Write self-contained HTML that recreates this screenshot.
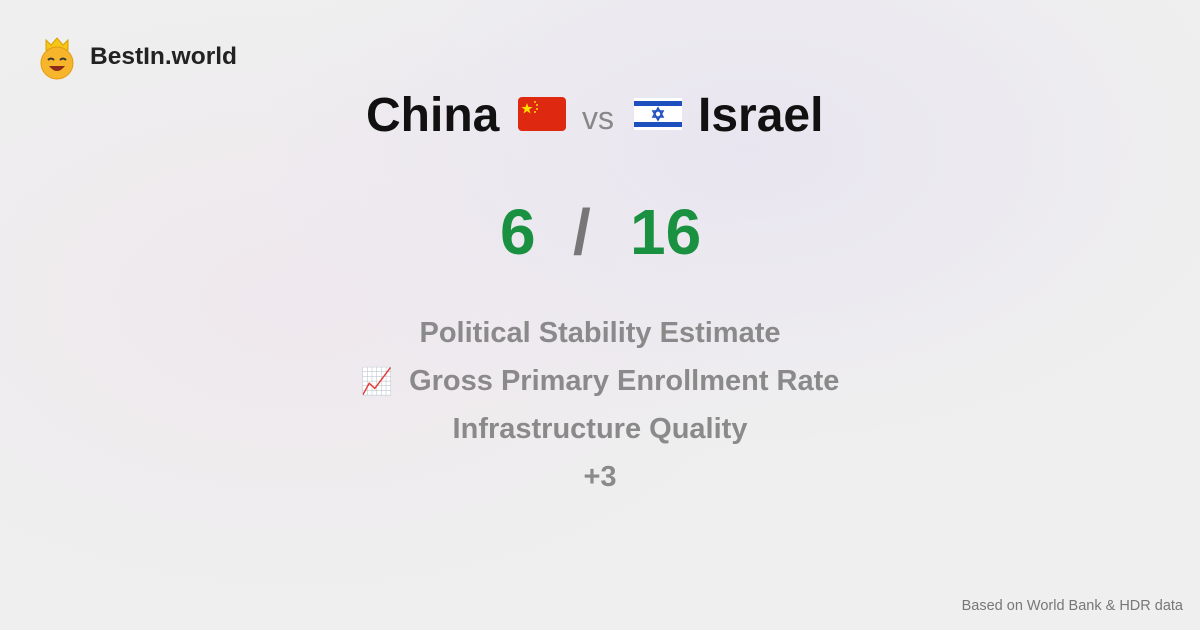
<!DOCTYPE html>
<html><head><meta charset="utf-8"><style>
body{margin:0;width:1200px;height:630px;overflow:hidden;font-family:"Liberation Sans",sans-serif;}
#bg{position:absolute;inset:0;width:1200px;height:630px;background:radial-gradient(ellipse 500px 300px at 750px 150px,#e9e5f0,transparent),radial-gradient(ellipse 500px 300px at 300px 300px,#efe8ee,transparent),#efefef;}
.abs{position:absolute}
.logo{left:90px;top:43px;font-size:24.5px;font-weight:bold;color:#222}
.title{top:88px;font-size:48px;font-weight:bold;color:#111}
.vs{left:582px;top:100px;font-size:32px;color:#888}
.score{top:195px;font-size:64px;font-weight:bold;color:#1a9141}
.feat{left:0;width:1200px;text-align:center;font-size:29px;font-weight:bold;color:#8a8a8a}
.foot{right:17px;top:598px;font-size:14.5px;color:#777}
</style></head><body>
<div id="bg"></div>
<svg class="abs" style="left:38px;top:36px" width="38" height="44">
<polygon points="8,14 8,4 13,9 19,2 25,9 30,4 30,14" fill="#f5c518" stroke="#d9a000"/>
<circle cx="19" cy="27" r="16" fill="#f7b52c" stroke="#e59a10"/>
<path d="M10 24 q3-3 6 0 M22 24 q3-3 6 0" stroke="#333" stroke-width="2" fill="none"/>
<path d="M11 30 q8 10 16 0 z" fill="#8b2a1a"/>
</svg>
<div class="abs logo">BestIn.world</div>
<div class="abs title" style="left:366px">China</div>
<svg class="abs" style="left:518px;top:97px" width="48" height="34"><rect width="48" height="34" rx="4" fill="#de2910"/><polygon points="9,6 10.4,10 14.6,10 11.2,12.5 12.5,16.5 9,14 5.5,16.5 6.8,12.5 3.4,10 7.6,10" fill="#ffde00"/><circle cx="17" cy="5" r="1" fill="#ffde00"/><circle cx="19" cy="8" r="1" fill="#ffde00"/><circle cx="19" cy="12" r="1" fill="#ffde00"/><circle cx="17" cy="15" r="1" fill="#ffde00"/></svg>
<div class="abs vs">vs</div>
<svg class="abs" style="left:634px;top:98px" width="48" height="32"><rect width="48" height="32" fill="#fff"/><rect y="3" width="48" height="5" fill="#1d4fbf"/><rect y="24" width="48" height="5" fill="#1d4fbf"/><polygon points="24,10 29,19 19,19" fill="none" stroke="#1d4fbf" stroke-width="1.6"/><polygon points="24,22 29,13 19,13" fill="none" stroke="#1d4fbf" stroke-width="1.6"/></svg>
<div class="abs title" style="left:698px">Israel</div>
<div class="abs score" style="left:500px">6</div>
<div class="abs score" style="left:573px;color:#777">/</div>
<div class="abs score" style="left:630px">16</div>
<div class="abs feat" style="top:317px">Political Stability Estimate</div>
<div class="abs feat" style="top:365px"><span style="font-size:26px">📈</span>&nbsp; Gross Primary Enrollment Rate</div>
<div class="abs feat" style="top:413px">Infrastructure Quality</div>
<div class="abs feat" style="top:461px">+3</div>
<div class="abs foot">Based on World Bank &amp; HDR data</div>
</body></html>
